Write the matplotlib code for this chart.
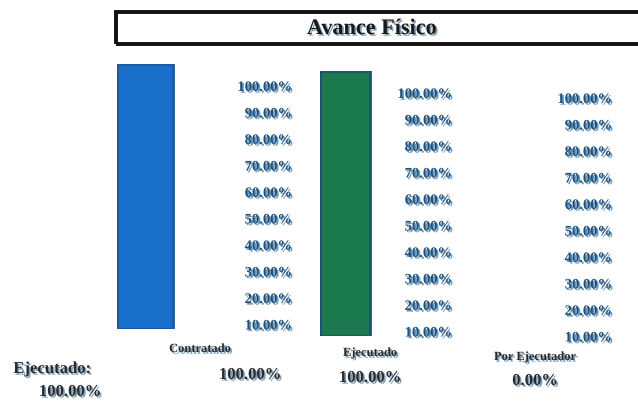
import numpy as np
import matplotlib
matplotlib.use('Agg')
import matplotlib.pyplot as plt
import matplotlib.patheffects as pe
from matplotlib.patches import Rectangle
from matplotlib.transforms import ScaledTranslation

title = 'Avance Físico'
categories = ['Contratado', 'Ejecutado', 'Por Ejecutador']
values = [1.0, 1.0, 0.0]
tick_values = [0.1, 0.2, 0.3, 0.4, 0.5, 0.6, 0.7, 0.8, 0.9, 1.0]
summary_label = 'Ejecutado:'
summary_value = 1.0

bar_colors = ['#1a6fcb', '#1c7a4f', '#1c7a4f']
edge_colors = ['#1a5aa0', '#1e5370', '#1e5370']

W, H = 638, 402
fig = plt.figure(figsize=(W / 100, H / 100), dpi=100)
fig.patch.set_facecolor('white')

def fx(px):
    return px / W

def fy(px):
    return 1 - px / H

label_fx = [pe.SimplePatchShadow(offset=(1.2, -1.2), shadow_rgbFace='#5b8fb8', alpha=0.9), pe.Normal()]
dark_fx = [pe.SimplePatchShadow(offset=(1.2, -1.2), shadow_rgbFace='#6f94b3', alpha=0.9), pe.Normal()]
serif = 'Liberation Serif'

# title box, runs off the right edge like the scan
fig.patches.append(Rectangle((fx(116), fy(45)), fx(650) - fx(116), fy(13) - fy(45),
                             transform=fig.transFigure, fill=False, lw=2.8,
                             edgecolor='#111111', zorder=5))
fig.text(fx(372), fy(30), title, ha='center', va='center', fontsize=16,
         fontweight='bold', family=serif, color='#1a1a1a', path_effects=dark_fx)

# panel boxes in pixels: left, top, right (label edge), bar width
panels = [(117, 65, 292, 56), (320, 72, 452, 50), (480, 77, 612, 50)]
label_shift = ScaledTranslation(0, -22 / 100, fig.dpi_scale_trans)

for i, (left, top, right, bw) in enumerate(panels):
    ax = fig.add_axes([fx(left), fy(top + 265), fx(right) - fx(left), 265 / H])
    width = right - left
    ax.set_xlim(0, width)
    ax.set_ylim(0, 1)
    if values[i] > 0:
        ax.bar(0, values[i], width=bw, align='edge', color=bar_colors[i],
               edgecolor=edge_colors[i], linewidth=2)
    for s in ax.spines.values():
        s.set_visible(False)
    ax.set_xticks([])
    ax.yaxis.tick_right()
    ax.set_yticks(tick_values)
    ax.set_yticklabels(['{:.2f}%'.format(v * 100) for v in tick_values])
    ax.tick_params(axis='y', length=0, pad=0)
    for lab in ax.get_yticklabels():
        lab.set_ha('right')
        lab.set_fontsize(10.5)
        lab.set_fontweight('bold')
        lab.set_family(serif)
        lab.set_color('#1f4f78')
        lab.set_path_effects(label_fx)
        lab.set_transform(lab.get_transform() + label_shift)
    ax.patch.set_alpha(0)

# bottom captions
cat_pos = [(200, 350), (370, 354), (535, 358)]
val_pos = [(250, 376), (370, 379), (535, 382)]
for i, name in enumerate(categories):
    fig.text(fx(cat_pos[i][0]), fy(cat_pos[i][1]), name, ha='center', va='center',
             fontsize=9, fontweight='bold', family=serif, color='#2a2a2a', path_effects=dark_fx)
    fig.text(fx(val_pos[i][0]), fy(val_pos[i][1]), '{:.2f}%'.format(values[i] * 100),
             ha='center', va='center', fontsize=12, fontweight='bold', family=serif,
             color='#2a2a2a', path_effects=dark_fx)

fig.text(fx(52), fy(370), summary_label, ha='center', va='center', fontsize=12,
         fontweight='bold', family=serif, color='#2a2a2a', path_effects=dark_fx)
fig.text(fx(70), fy(393), '{:.2f}%'.format(summary_value * 100), ha='center', va='center',
         fontsize=12, fontweight='bold', family=serif, color='#2a2a2a', path_effects=dark_fx)

fig.savefig('out.png', dpi=100)
